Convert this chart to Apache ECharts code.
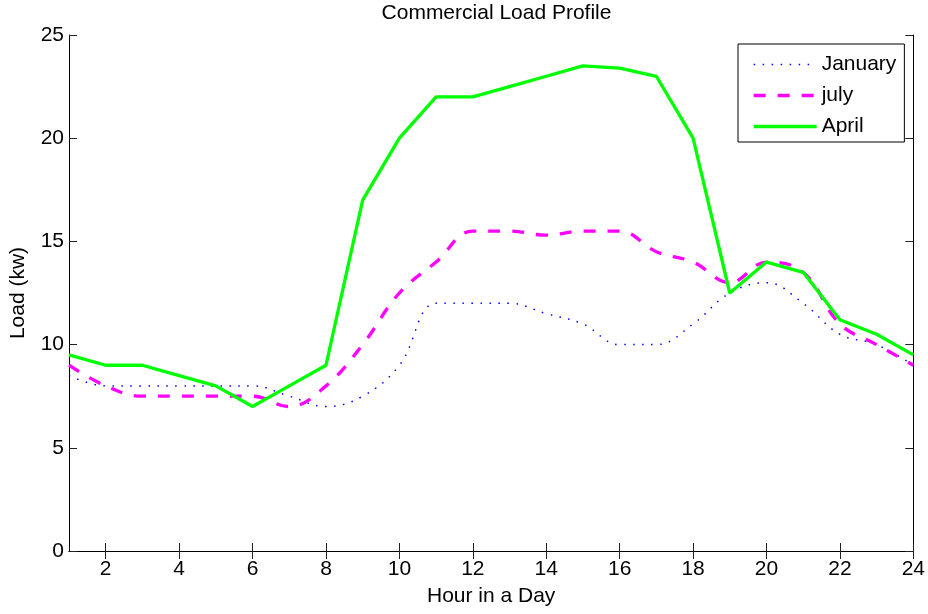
<!DOCTYPE html>
<html>
<head>
<meta charset="utf-8">
<script src="https://cdn.jsdelivr.net/npm/echarts@6/dist/echarts.min.js"></script>
<style>html,body{margin:0;padding:0;background:#fff}#c{width:928px;height:614px}</style>
</head>
<body>
<div id="c"></div>
<script>
const hours = [1,2,3,4,5,6,7,8,9,10,11,12,13,14,15,16,17,18,19,20,21,22,23,24];
const january = [8.5,8,8,8,8,8,7.5,7,7.5,9,12,12,12,11.5,11,10,10,11,12.5,13,12,10.5,10,9];
const july = [9,8,7.5,7.5,7.5,7.5,7,8,10,12.5,14,15.5,15.5,15.3,15.5,15.5,14.5,14,13,14,13.5,11,10,9];
const april = [9.5,9,9,8.5,8,7,8,9,17,20,22,22,22.5,23,23.5,23.4,23,20,12.5,14,13.5,11.2,10.5,9.5];
const xTicks = [2,4,6,8,10,12,14,16,18,20,22,24];
const seriesNames = ['January','july','April'];

const FONT = "'Liberation Sans', Arial, Helvetica, sans-serif";
const FS = 21;
const pair = arr => hours.map((h, i) => [h, arr[i]]);

const styles = {
  January: {color: '#0000ff', width: 1.5, type: [1.5, 7.5]},
  july: {color: '#ff00ff', width: 3.3, type: [12, 12]},
  April: {color: '#00ff00', width: 3.3, type: 'solid'}
};

const chart = echarts.init(document.getElementById('c'), null, {renderer: 'canvas'});
const axisLineStyle = {color: '#000', width: 1};
chart.setOption({
  animation: false,
  backgroundColor: '#fff',
  textStyle: {fontFamily: FONT},
  title: {
    text: 'Commercial Load Profile',
    left: 491.5, textAlign: 'center', top: -2,
    textStyle: {fontFamily: FONT, fontSize: FS, fontWeight: 'normal', color: '#000'}
  },
  grid: {left: 69, right: 14, top: 35, bottom: 63, containLabel: false},
  legend: {
    data: seriesNames.map(n => ({name: n, lineStyle: {width: styles[n].width, type: styles[n].type, color: styles[n].color}})),
    orient: 'vertical',
    left: 738, top: 44,
    padding: [10, 8, 5, 14],
    itemGap: 10,
    itemWidth: 63, itemHeight: 21,
    borderColor: '#000', borderWidth: 1,
    backgroundColor: '#fff',
    itemStyle: {opacity: 0},
    textStyle: {fontFamily: FONT, fontSize: FS, color: '#000'}
  },
  xAxis: [{
    type: 'value', min: 1, max: 24, position: 'bottom',
    name: 'Hour in a Day', nameLocation: 'middle', nameGap: 35,
    nameTextStyle: {fontFamily: FONT, fontSize: FS, color: '#000'},
    axisLine: {show: true, lineStyle: axisLineStyle},
    axisTick: {show: true, inside: true, length: 8, customValues: xTicks, lineStyle: {color: '#222'}},
    axisLabel: {show: true, customValues: xTicks, fontFamily: FONT, fontSize: FS, color: '#000', margin: 8},
    splitLine: {show: false}
  }, {
    type: 'value', min: 1, max: 24, position: 'top',
    axisLine: {show: true, lineStyle: axisLineStyle},
    axisTick: {show: true, inside: true, length: 8, customValues: xTicks, lineStyle: {color: '#222'}},
    axisLabel: {show: false},
    splitLine: {show: false}
  }],
  yAxis: [{
    type: 'value', min: 0, max: 25, interval: 5, position: 'left',
    name: 'Load (kw)', nameLocation: 'middle', nameGap: 40, nameRotate: 90,
    nameTextStyle: {fontFamily: FONT, fontSize: FS, color: '#000'},
    axisLine: {show: true, lineStyle: axisLineStyle},
    axisTick: {show: true, inside: true, length: 8, lineStyle: {color: '#222'}},
    axisLabel: {fontFamily: FONT, fontSize: FS, color: '#000', margin: 5},
    splitLine: {show: false}
  }, {
    type: 'value', min: 0, max: 25, interval: 5, position: 'right',
    axisLine: {show: true, lineStyle: axisLineStyle},
    axisTick: {show: true, inside: true, length: 8, lineStyle: {color: '#222'}},
    axisLabel: {show: false},
    splitLine: {show: false}
  }],
  series: [{
    name: 'January', type: 'line', data: pair(january),
    smooth: 0.4, symbol: 'none', showSymbol: false,
    lineStyle: styles.January,
    itemStyle: {color: styles.January.color}, z: 2
  }, {
    name: 'july', type: 'line', data: pair(july),
    smooth: 0.4, symbol: 'none', showSymbol: false,
    lineStyle: styles.july,
    itemStyle: {color: styles.july.color}, z: 3
  }, {
    name: 'April', type: 'line', data: pair(april),
    symbol: 'none', showSymbol: false,
    lineStyle: styles.April,
    itemStyle: {color: styles.April.color}, z: 4
  }]
});
</script>
</body>
</html>
